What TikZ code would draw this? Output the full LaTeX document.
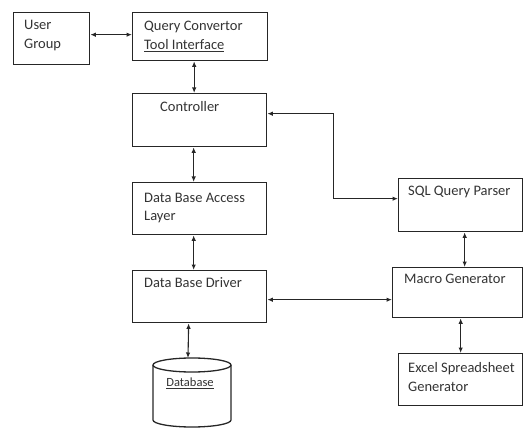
\documentclass[tikz,border=0pt]{standalone}
\usepackage{fontspec}
\setmainfont{Carlito}
\usetikzlibrary{arrows.meta}
\tikzset{
  block/.style={draw=black!85, line width=1.3pt, inner sep=0pt, anchor=north west},
  blocktext/.style={anchor=base west, align=left, inner sep=0pt, text=black!80,
    font=\fontsize{14.5}{19}\selectfont},
  link/.style={{Latex[length=5.5pt,width=4.5pt]}-{Latex[length=5.5pt,width=4.5pt]}, line width=1.1pt, draw=black!85},
}
\begin{document}
\begin{tikzpicture}[x=1pt,y=-1pt]
  \useasboundingbox (0,0) rectangle (523,428);
  % boxes
  \node[block, minimum width=76pt, minimum height=52pt] (user) at (13,12) {};
  \node[block, minimum width=135pt, minimum height=48pt] (query) at (132,12) {};
  \node[block, minimum width=134pt, minimum height=53pt] (ctrl) at (132,93) {};
  \node[block, minimum width=134pt, minimum height=52pt] (dbal) at (132,182) {};
  \node[block, minimum width=134pt, minimum height=52pt] (drv) at (132,270) {};
  \node[block, minimum width=124pt, minimum height=53pt] (sql) at (398,178) {};
  \node[block, minimum width=130pt, minimum height=50pt] (macro) at (392,267) {};
  \node[block, minimum width=124pt, minimum height=52pt] (excel) at (398,353) {};
  % texts (base = last line)
  \node[blocktext] at (24,49) {User\\Group};
  \node[blocktext] at (144,50) {Query Convertor\\\underline{Tool Interface}};
  \node[blocktext] at (160,112) {Controller};
  \node[blocktext] at (144,221) {Data Base Access\\Layer};
  \node[blocktext] at (144,287) {Data Base Driver};
  \node[blocktext] at (408,195) {SQL Query Parser};
  \node[blocktext] at (404,283) {Macro Generator};
  \node[blocktext] at (408,391) {Excel Spreadsheet\\Generator};
  % database
  \draw[draw=black!85, line width=1.3pt] (192,365) ellipse [x radius=39pt, y radius=7pt];
  \draw[draw=black!85, line width=1.3pt] (153,365) -- (153,420)
    arc[start angle=180, end angle=360, x radius=39pt, y radius=7pt] -- (231,365);
  \coordinate (dbtop) at (188,358);
  \node[text=black!80, font=\fontsize{12.5}{15}\selectfont] (db) at (190,383) {\underline{Database}};
  % links
  \draw[link] ([yshift=4pt]user.east) -- ([yshift=4pt]user.east -| query.west);
  \draw[link] ([xshift=-6pt]query.south) -- ([xshift=-6pt]query.south |- ctrl.north);
  \draw[link] ([xshift=-6pt]ctrl.south) -- ([xshift=-6pt]ctrl.south |- dbal.north);
  \draw[link] ([xshift=-6pt]dbal.south) -- ([xshift=-6pt]dbal.south |- drv.north);
  \draw[link] ([xshift=-11pt]drv.south) -- (dbtop);
  \draw[link] ([yshift=6.5pt]ctrl.east) -- ++(66,0) |- ([yshift=6.5pt]sql.west);
  \draw[link] ([xshift=4pt]sql.south) -- ([xshift=4pt]sql.south |- macro.north);
  \draw[link] ([xshift=3pt]macro.south) -- ([xshift=3pt]macro.south |- excel.north);
  \draw[link] ([yshift=-3pt]drv.east) -- ([yshift=-3pt]drv.east -| macro.west);
\end{tikzpicture}
\end{document}
